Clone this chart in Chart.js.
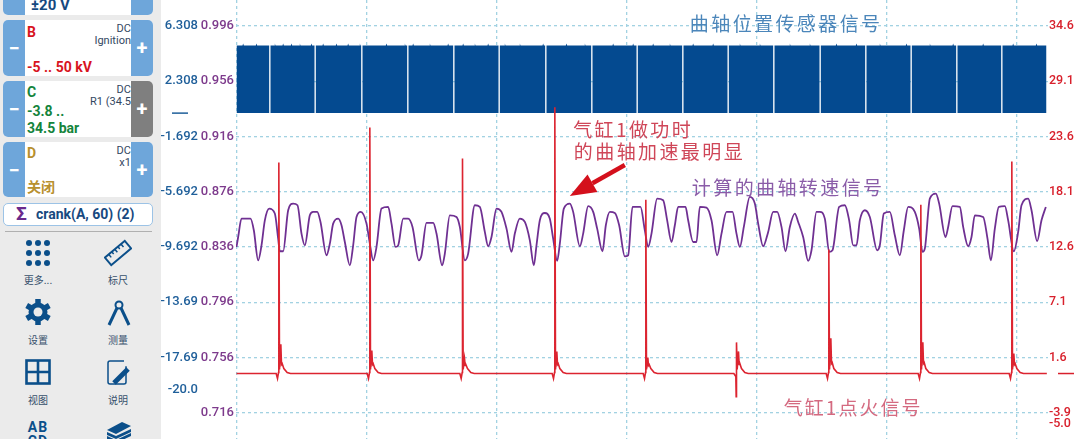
<!DOCTYPE html>
<html>
<head>
<meta charset="utf-8">
<title>crank</title>
<script src="https://cdn.jsdelivr.net/npm/chart.js@4"></script>
<style>
html, body { margin: 0; padding: 0; background: #fff; width: 1080px; height: 439px; overflow: hidden; }
#scope { position: absolute; left: 0; top: 0; }
#side { position: absolute; left: 0; top: 0; width: 161px; height: 439px; background: #ebebeb; overflow: hidden; font-family: Roboto, "Noto Sans CJK SC", sans-serif; }
.ch { position: absolute; left: 3px; width: 150px; background: #fff; border-radius: 5px; overflow: hidden; }
.ch .minus, .ch .plus { position: absolute; top: 0; bottom: 0; width: 22px; background: #6ea6da; color: #fff; font: bold 20px/1 Roboto, sans-serif; display: flex; align-items: center; justify-content: center; }
.ch .minus { left: 0; }
.ch .plus { right: 0; }
.ch .plus.off { background: #7f7f7f; }
.ch b, .ch span { position: absolute; white-space: nowrap; }
.ch .name { left: 24px; font: bold 14px/16px Roboto, sans-serif; }
.ch .dc { right: 22px; width: 60px; text-align: right; overflow: hidden; color: #33475f; font: 11px/12px Roboto, sans-serif; }
.ch .range { left: 24px; font: bold 14px/16px Roboto, "Noto Sans CJK SC", sans-serif; }
#func { position: absolute; left: 3px; top: 203px; width: 148px; height: 21px; background: #fff; border: 1px solid #9cc3e6; border-radius: 5px; font: bold 14px/21px Roboto, sans-serif; color: #17497f; white-space: nowrap; }
#func i { position: absolute; left: 12px; top: -1px; font-style: normal; color: #6a2a8c; font-size: 19px; }
#func span { position: absolute; left: 32px; top: 0; }
#sep { position: absolute; left: 5px; top: 231px; width: 147px; height: 1px; background: #b0b0b0; }
.tool { position: absolute; width: 60px; text-align: center; font: 10px/12px "Noto Sans CJK SC", sans-serif; color: #37506b; }
.icon { position: absolute; }
</style>
</head>
<body>
<canvas id="scope" width="1080" height="439"></canvas>
<div id="side">
  <div class="ch" style="top:-30px;height:45px">
    <div class="minus"></div><div class="plus"></div>
    <b class="range" style="top:27px;left:28px;color:#17497f;font-size:15px">±20 V</b>
  </div>
  <div class="ch" style="top:20px;height:56px">
    <div class="minus">−</div><div class="plus">+</div>
    <b class="name" style="top:4px;color:#d8141e">B</b>
    <span class="dc" style="top:3px">DC</span><span class="dc" style="top:15px">Ignition</span>
    <b class="range" style="top:39px;color:#d8141e">-5 .. 50 kV</b>
  </div>
  <div class="ch" style="top:81px;height:56px">
    <div class="minus">−</div><div class="plus off">+</div>
    <b class="name" style="top:3px;color:#14843c">C</b>
    <span class="dc" style="top:3px">DC</span><span class="dc" style="top:15px">R1 (34.5</span>
    <b class="range" style="top:22px;color:#14843c">-3.8 ..</b>
    <b class="range" style="top:39px;color:#14843c">34.5 bar</b>
  </div>
  <div class="ch" style="top:142px;height:55px">
    <div class="minus">−</div><div class="plus">+</div>
    <b class="name" style="top:3px;color:#b8902e">D</b>
    <span class="dc" style="top:3px">DC</span><span class="dc" style="top:15px">x1</span>
    <b class="range" style="top:37px;color:#b8902e">关闭</b>
  </div>
  <div id="func"><i>Σ</i><span>crank(A, 60) (2)</span></div>
  <div id="sep"></div>

  <svg class="icon" style="left:24px;top:239px" width="28" height="28" fill="#0b4f8a">
    <circle cx="5" cy="4" r="3"/><circle cx="14" cy="4" r="3"/><circle cx="23" cy="4" r="3"/>
    <circle cx="5" cy="14" r="3"/><circle cx="14" cy="14" r="3"/><circle cx="23" cy="14" r="3"/>
    <circle cx="5" cy="24" r="3"/><circle cx="14" cy="24" r="3"/><circle cx="23" cy="24" r="3"/>
  </svg>
  <div class="tool" style="left:8px;top:274px">更多...</div>
  <svg class="icon" style="left:104px;top:239px" width="28" height="28">
    <g transform="rotate(-40 14 14)"><rect x="1" y="9" width="26" height="10" fill="none" stroke="#0b4f8a" stroke-width="2"/>
    <path d="M6 9v4M10 9v3M14 9v4M18 9v3M22 9v4" stroke="#0b4f8a" stroke-width="1.5"/></g>
  </svg>
  <div class="tool" style="left:88px;top:274px">标尺</div>

  <svg class="icon" style="left:24px;top:298px" width="28" height="28">
    <path d="M14 1v26M2.7 7.5l22.6 13M2.7 20.5l22.6-13" stroke="#0b4f8a" stroke-width="5.5"/>
    <circle cx="14" cy="14" r="9.5" fill="#0b4f8a"/>
    <circle cx="14" cy="14" r="4.5" fill="#ebebeb"/>
  </svg>
  <div class="tool" style="left:8px;top:334px">设置</div>
  <svg class="icon" style="left:104px;top:299px" width="28" height="28" fill="none" stroke="#0b4f8a">
    <circle cx="15" cy="6" r="3.5" stroke-width="2"/>
    <path d="M13 9 5 26M17 9 25 26" stroke-width="3"/>
  </svg>
  <div class="tool" style="left:88px;top:334px">测量</div>

  <svg class="icon" style="left:25px;top:359px" width="26" height="26" fill="none" stroke="#0b4f8a" stroke-width="2.6">
    <rect x="1.5" y="1.5" width="23" height="23"/><path d="M13 1.5v23M1.5 13h23"/>
  </svg>
  <div class="tool" style="left:8px;top:394px">视图</div>
  <svg class="icon" style="left:106px;top:360px" width="26" height="26" fill="none" stroke="#0b4f8a">
    <rect x="2" y="1" width="18" height="23" rx="2" stroke-width="1.5" stroke-dasharray="14 6 70"/>
    <path d="M8 23 22 9" stroke-width="5"/>
  </svg>
  <div class="tool" style="left:88px;top:394px">说明</div>

  <div class="tool" style="left:8px;top:420px;color:#0b4f8a;font:bold 14px/14px Roboto,sans-serif;letter-spacing:1px">AB<br>CD</div>
  <svg class="icon" style="left:106px;top:421px" width="26" height="18" fill="#0b4f8a">
    <path d="M1 9 16 1l9 4-15 8z"/><path d="M1 11l9 4 15-7v3l-15 7-9-4z"/><path d="M1 15l9 4 15-7v3l-15 7-9-4z"/>
  </svg>
</div>
<script>
// vertical ticks, one label list per channel
const chanATicks = [6.308, 2.308, -1.692, -5.692, -9.692, -13.692, -17.692, -20];
const chanALabels = ['6.308', '2.308', '-1.692', '-5.692', '-9.692', '-13.69', '-17.69', '-20.0'];
const crankTicks = [0.996, 0.956, 0.916, 0.876, 0.836, 0.796, 0.756, 0.716];
const chanCTicks = [34.6, 29.1, 23.6, 18.1, 12.6, 7.1, 1.6, -3.9, -5];
const timeTicks = [0, 390, 780, 1170, 1560, 1950, 2340];

// channel A: tooth wheel block, level and missing tooth positions
const toothTop = 4.9;
const toothGaps = [100, 236, 376, 514, 652, 788, 928, 1066, 1202, 1339, 1475, 1612, 1751, 1888, 2024, 2161, 2296];
const toothBumps = [20, 60, 115, 140, 165, 190, 225, 260, 300, 335, 370, 450, 505, 530, 580, 635, 680, 715, 755, 805, 850, 920, 990, 1045, 1130, 1190, 1250, 1300, 1370, 1430, 1510, 1570, 1660, 1720, 1800, 1860, 1930, 2010, 2080, 2150, 2240, 2330, 2400];

// computed crank speed
const crankT = [0, 5, 15, 42, 52, 65, 75, 85, 98, 115, 125, 130, 140, 155, 170, 183, 195, 205, 220, 230, 242, 252, 270, 280, 290, 305, 315, 325, 340, 350, 360, 373, 390, 400, 410, 420, 435, 455, 465, 477, 485, 500, 515, 528, 547, 555, 570, 590, 600, 617, 625, 640, 660, 670, 685, 695, 715, 730, 745, 755, 765, 780, 795, 810, 825, 835, 850, 865, 880, 892, 900, 910, 925, 940, 950, 962, 970, 982, 1000, 1010, 1030, 1040, 1055, 1070, 1082, 1098, 1108, 1120, 1135, 1148, 1165, 1175, 1188, 1212, 1225, 1235, 1245, 1262, 1280, 1292, 1305, 1315, 1325, 1347, 1355, 1370, 1380, 1390, 1410, 1425, 1442, 1455, 1470, 1488, 1500, 1510, 1522, 1540, 1555, 1565, 1580, 1595, 1610, 1622, 1635, 1647, 1660, 1675, 1685, 1700, 1715, 1725, 1740, 1750, 1765, 1778, 1788, 1808, 1825, 1838, 1850, 1860, 1870, 1885, 1900, 1922, 1930, 1942, 1960, 1975, 1990, 2002, 2015, 2035, 2048, 2058, 2065, 2080, 2098, 2108, 2127, 2135, 2148, 2170, 2180, 2195, 2205, 2215, 2240, 2253, 2263, 2275, 2287, 2305, 2315, 2332, 2345, 2355, 2375, 2385, 2402, 2415, 2428];
const crankV = [.8360, .8432, .8565, .8565, .8481, .8263, .8372, .8553, .8638, .8602, .8420, .8329, .8329, .8626, .8674, .8662, .8457, .8372, .8589, .8614, .8614, .8541, .8300, .8384, .8529, .8565, .8517, .8396, .8227, .8372, .8577, .8614, .8529, .8384, .8263, .8360, .8638, .8650, .8529, .8360, .8372, .8565, .8565, .8505, .8263, .8300, .8534, .8534, .8457, .8227, .8312, .8589, .8577, .8505, .8263, .8312, .8662, .8650, .8469, .8365, .8432, .8638, .8614, .8493, .8324, .8457, .8565, .8541, .8408, .8227, .8372, .8553, .8606, .8565, .8420, .8259, .8384, .8638, .8674, .8614, .8365, .8457, .8655, .8614, .8493, .8329, .8517, .8614, .8606, .8517, .8292, .8300, .8650, .8650, .8481, .8360, .8457, .8710, .8698, .8553, .8396, .8517, .8650, .8650, .8553, .8396, .8396, .8650, .8645, .8553, .8300, .8457, .8614, .8614, .8457, .8360, .8505, .8722, .8674, .8529, .8365, .8469, .8614, .8614, .8505, .8329, .8505, .8602, .8541, .8432, .8259, .8336, .8614, .8614, .8565, .8324, .8336, .8650, .8662, .8553, .8372, .8372, .8553, .8626, .8577, .8336, .8372, .8602, .8614, .8445, .8300, .8481, .8650, .8614, .8493, .8324, .8348, .8710, .8746, .8674, .8432, .8505, .8655, .8650, .8505, .8365, .8432, .8589, .8577, .8420, .8263, .8493, .8650, .8655, .8553, .8329, .8469, .8662, .8710, .8626, .8403, .8553, .8650];

// channel C: cylinder 1 ignition
const sparkT = [0,
  119, 123, 126, 127, 129, 133, 135, 137, 142, 152, 162,
  392, 396, 399, 400, 402, 406, 408, 410, 415, 425, 435,
  670, 674, 677, 678, 680, 684, 686, 688, 693, 703, 713,
  947, 951, 954, 955, 957, 961, 963, 965, 970, 980, 990,
  1220, 1224, 1227, 1228, 1230, 1234, 1236, 1238, 1243, 1253, 1263,
  1492, 1498, 1499, 1500, 1502, 1506, 1508, 1510, 1515, 1525, 1535,
  1769, 1773, 1776, 1777, 1779, 1783, 1785, 1787, 1792, 1802, 1812,
  2045, 2049, 2052, 2053, 2055, 2059, 2061, 2063, 2068, 2078, 2088,
  2318, 2322, 2325, 2326, 2328, 2332, 2334, 2336, 2341, 2351, 2361,
  2431];
const sparkV = [0,
  0, -.5, .1, 21.0, .4, 2.9, .9, 1.0, .5, .1, 0,
  0, -.5, .1, 24.5, .4, 2.3, .9, 1.0, .5, .1, 0,
  0, -.5, .1, 21.4, .4, 1.5, .8, .9, .5, .1, 0,
  0, -.5, .1, 26.5, .4, 2.2, .9, 1.0, .5, .1, 0,
  0, -.5, .1, 17.3, .4, 1.6, .8, .9, .5, .1, 0,
  0, -.3, -2.3, 3.1, .4, 2.2, .9, 1.0, .5, .1, 0,
  0, -.5, .1, 12.35, .4, 3.5, 1.0, 1.1, .5, .1, 0,
  0, -.5, .1, 16.8, .4, 3.1, 1.0, 1.1, .5, .1, 0,
  0, -.5, .1, 21.1, .4, 2.0, .9, 1.0, .5, .1, 0,
  0];

// notes on the trace, placed in time / channel C units
const notes = [
  { text: '曲轴位置传感器信号', x: 1360, y: 34.8, color: '#4b86ba', spacing: 2.4 },
  { text: '气缸1做功时', x: 1010, y: 24.24, color: '#cf4658', spacing: 2.4 },
  { text: '的曲轴加速最明显', x: 1012, y: 22.05, color: '#cf4658', spacing: 2.4 },
  { text: '计算的曲轴转速信号', x: 1366, y: 18.47, color: '#8a5ca8', spacing: 2.4 },
  { text: '气缸1点火信号', x: 1642, y: -3.43, color: '#d46a80', spacing: 2 }
];
const arrowFrom = { x: 1165, y: 20.76 };
const arrowTo = { x: 1000, y: 17.67 };

function pairs(xs, ys) {
  return xs.map((x, i) => ({ x: x, y: ys[i] }));
}

function toothBlock() {
  const pts = [{ x: 0, y: 0 }, { x: 0, y: toothTop }];
  const marks = [...toothGaps.map(g => [g, 'gap']), ...toothBumps.map(b => [b, 'bump'])].sort((a, b) => a[0] - b[0]);
  marks.forEach(([x, kind]) => {
    if (kind === 'gap') {
      pts.push({ x: x - 2, y: toothTop }, { x: x - 2, y: 0 }, { x: x + 2, y: 0 }, { x: x + 2, y: toothTop });
    } else {
      pts.push({ x: x - 2, y: toothTop }, { x: x, y: toothTop + 0.15 }, { x: x + 2, y: toothTop });
    }
  });
  pts.push({ x: 2430, y: toothTop }, { x: 2430, y: 0 });
  return pts;
}

function fixedAxis(position, weight, width, color, ticks, labels, pad) {
  return {
    position: position,
    weight: weight,
    afterBuildTicks: s => { s.ticks = ticks.map(v => ({ value: v })); },
    afterFit: s => { s.width = width; s.paddingTop = 0; s.paddingBottom = 0; },
    grid: { display: false, drawTicks: false },
    border: { display: false },
    ticks: {
      autoSkip: false,
      padding: pad,
      color: color,
      font: { family: 'Roboto', size: 13, weight: '500' },
      callback: (v, i) => (labels ? labels[i] : v.toFixed(1))
    }
  };
}

const gridColor = '#a2d2e2';

const crankAxis = fixedAxis('left', 0, 36, '#7d3a8c', crankTicks, crankTicks.map(v => v.toFixed(3)), 2);
crankAxis.min = 0.69694;
crankAxis.max = 1.01483;
crankAxis.grid = { display: true, color: gridColor, lineWidth: 1.3, drawTicks: false };
crankAxis.border = { display: false, dash: [3, 3] };

const chanAAxis = fixedAxis('left', 1, 40, '#1f5f9a', chanATicks, chanALabels, 2);
chanAAxis.min = -23.597;
chanAAxis.max = 8.191;

const chanCAxis = fixedAxis('right', 0, 32, '#d8202c', chanCTicks, null, 1);
chanCAxis.min = -6.519;
chanCAxis.max = 37.189;
chanCAxis.ticks.font = { family: 'Roboto', size: 12.5, weight: '500' };

const annotate = {
  id: 'annotate',
  afterDatasetsDraw(chart) {
    const ctx = chart.ctx;
    const sx = chart.scales.x, sy = chart.scales.yC;
    ctx.save();
    notes.forEach(n => {
      ctx.font = '19px "Noto Sans CJK SC"';
      ctx.letterSpacing = n.spacing + 'px';
      ctx.fillStyle = n.color;
      ctx.textBaseline = 'middle';
      ctx.fillText(n.text, sx.getPixelForValue(n.x), sy.getPixelForValue(n.y));
    });

    // arrow to the strongest acceleration
    const x0 = sx.getPixelForValue(arrowFrom.x), y0 = sy.getPixelForValue(arrowFrom.y);
    const x1 = sx.getPixelForValue(arrowTo.x), y1 = sy.getPixelForValue(arrowTo.y);
    const a = Math.atan2(y1 - y0, x1 - x0);
    const bx = x1 - Math.cos(a) * 26, by = y1 - Math.sin(a) * 26;
    ctx.strokeStyle = ctx.fillStyle = '#d4101c';
    ctx.lineWidth = 4.5;
    ctx.beginPath();
    ctx.moveTo(x0, y0);
    ctx.lineTo(bx, by);
    ctx.stroke();
    ctx.beginPath();
    ctx.moveTo(x1, y1);
    ctx.lineTo(bx + Math.sin(a) * 10, by - Math.cos(a) * 10);
    ctx.lineTo(bx - Math.sin(a) * 10, by + Math.cos(a) * 10);
    ctx.closePath();
    ctx.fill();

    // zero level markers beside the axes
    ctx.lineWidth = 1.5;
    ctx.strokeStyle = '#1f5f9a';
    const za = chart.scales.yA.getPixelForValue(0);
    ctx.beginPath(); ctx.moveTo(172, za); ctx.lineTo(188, za); ctx.stroke();
    ctx.strokeStyle = '#d8202c';
    const zc = sy.getPixelForValue(0);
    ctx.beginPath(); ctx.moveTo(1058, zc); ctx.lineTo(1074, zc); ctx.stroke();
    ctx.restore();
  }
};

new Chart(document.getElementById('scope'), {
  type: 'line',
  data: {
    datasets: [
      {
        label: 'C',
        data: pairs(sparkT, sparkV),
        yAxisID: 'yC',
        borderColor: '#dc2430',
        borderWidth: 1.6,
        pointRadius: 0,
        order: 1
      },
      {
        label: 'crank(A, 60)',
        data: pairs(crankT, crankV),
        yAxisID: 'yCrank',
        borderColor: '#6f3092',
        borderWidth: 1.8,
        cubicInterpolationMode: 'monotone',
        pointRadius: 0,
        order: 2
      },
      {
        label: 'A',
        data: toothBlock(),
        yAxisID: 'yA',
        borderColor: '#044a90',
        borderWidth: 0,
        backgroundColor: '#044a90',
        fill: { value: 0 },
        pointRadius: 0,
        order: 3
      }
    ]
  },
  options: {
    responsive: false,
    animation: false,
    layout: { padding: { left: 160, right: 0, top: 0, bottom: 0 } },
    plugins: { legend: { display: false }, tooltip: { enabled: false } },
    scales: {
      x: {
        type: 'linear',
        min: -1.5,
        max: 2434.5,
        afterBuildTicks: s => { s.ticks = timeTicks.map(v => ({ value: v })); },
        afterFit: s => { s.height = 0; s.paddingLeft = 0; s.paddingRight = 0; },
        grid: { color: gridColor, lineWidth: 1.3, drawTicks: false },
        border: { display: false, dash: [3, 3] },
        ticks: { display: false }
      },
      yCrank: crankAxis,
      yA: chanAAxis,
      yC: chanCAxis
    }
  },
  plugins: [annotate]
});
</script>
</body>
</html>
